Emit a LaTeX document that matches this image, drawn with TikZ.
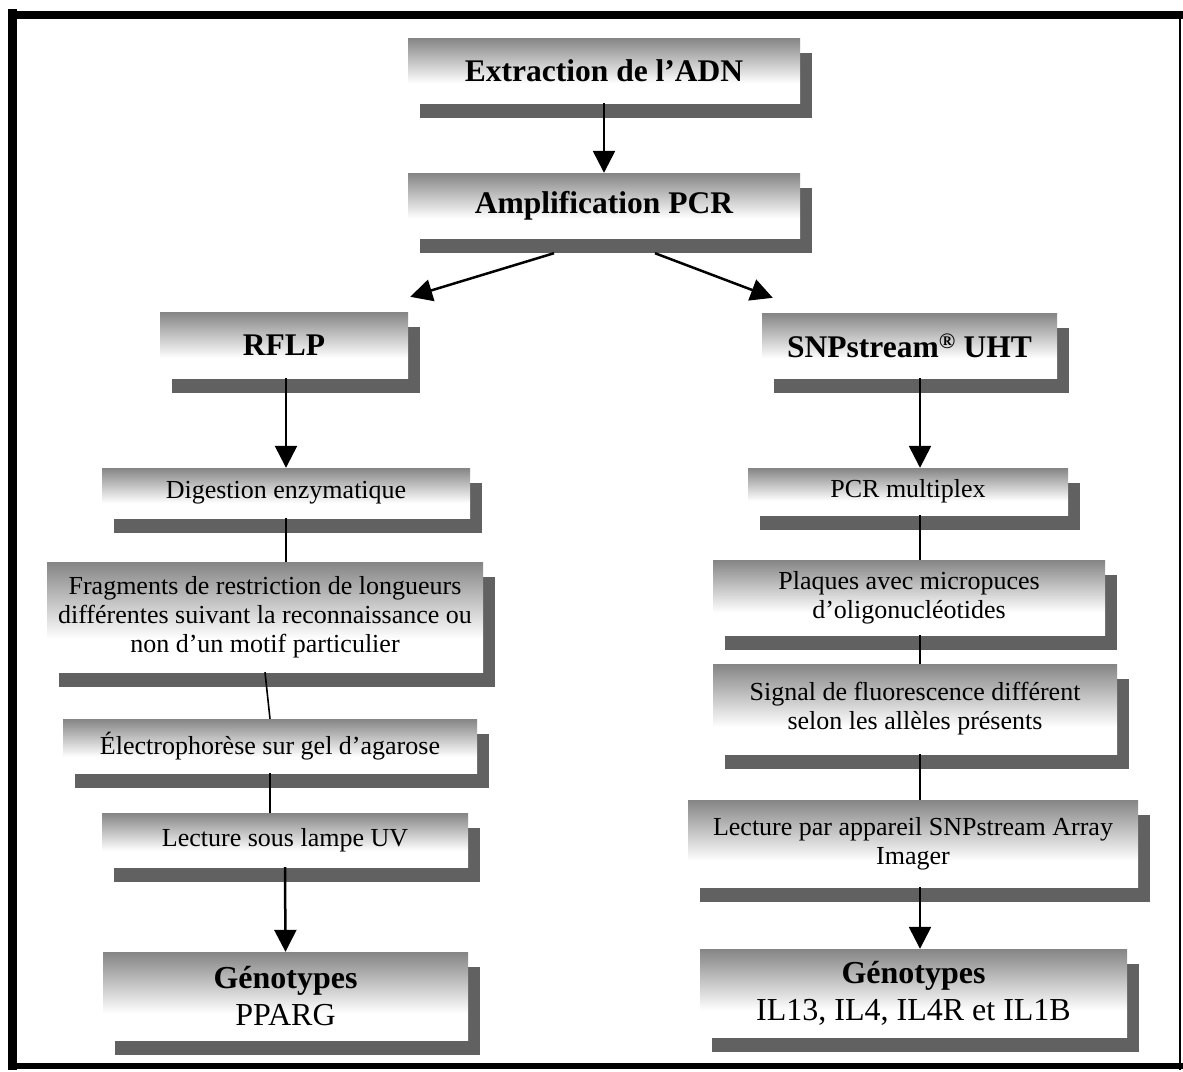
\documentclass[tikz,border=0pt]{standalone}
\usepackage{fontspec}
\setmainfont{Liberation Serif}
\usetikzlibrary{arrows.meta,shadows,calc}
\pgfdeclareverticalshading{boxfade}{100bp}{color(0bp)=(white); color(25bp)=(white); color(40bp)=(white); color(75bp)=(black!48); color(100bp)=(black!48)}
\begin{document}
\begin{tikzpicture}[x=1pt,y=-1pt,
  box/.style={shade, shading=boxfade,
    drop shadow={shadow xshift=12pt,shadow yshift=-15pt,fill=black!62,opacity=1},
    inner sep=0pt, align=center, font=\fontsize{26}{29}\selectfont},
  head/.style={box, font=\bfseries\fontsize{31.5}{35}\selectfont},
  gen/.style={box, font=\fontsize{32}{37}\selectfont},
  arr/.style={line width=2.5pt, -{Triangle[width=22pt,length=22pt]}},
  link/.style={line width=1.6pt}]
\useasboundingbox (0,0) rectangle (1183,1071);
\fill[white] (0,0) rectangle (1183,1071);
% frame
\draw[line width=9pt] (12.5,9) -- (12.5,1070);
\draw[line width=8pt] (8,15) -- (1183,15);
\draw[line width=2.5pt] (1180,11) -- (1180,1070);
\draw[line width=6pt] (9,1066) -- (1183,1066);
% nodes
\node[head, minimum width=392pt, minimum height=65pt] (ext) at (604,70.5) {Extraction de l’ADN};
\node[head, minimum width=392pt, minimum height=65pt] (amp) at (604,205.5) {Amplification PCR};
\node[head, minimum width=248pt, minimum height=66pt] (rflp) at (284,345) {RFLP};
\node[head, minimum width=295pt, minimum height=65pt] (snp) at (909.5,345.5) {SNPstream\textsuperscript{®} UHT};
\node[box, minimum width=368pt, minimum height=50pt] (dig) at (286,493) {Digestion enzymatique};
\node[box, minimum width=436pt, minimum height=110pt] (frag) at (265,617) {Fragments de restriction de longueurs\\différentes suivant la reconnaissance ou\\non d’un motif particulier};
\node[box, minimum width=414pt, minimum height=54pt] (elec) at (270,746) {Électrophorèse sur gel d’agarose};
\node[box, minimum width=366pt, minimum height=54pt] (lec1) at (285,840) {Lecture sous lampe UV};
\node[gen, minimum width=365pt, minimum height=88pt] (gen1) at (285.5,996) {\textbf{Génotypes}\\PPARG};
\node[box, minimum width=320pt, minimum height=47pt] (pcr) at (908,491.5) {PCR multiplex};
\node[box, minimum width=392pt, minimum height=75pt] (plq) at (909,597.5) {Plaques avec micropuces\\d’oligonucléotides};
\node[box, minimum width=404pt, minimum height=90pt] (sig) at (915,709) {Signal de fluorescence différent\\selon les allèles présents};
\node[box, minimum width=450pt, minimum height=87pt] (lec2) at (913,843.5) {Lecture par appareil SNPstream Array\\Imager};
\node[gen, minimum width=427pt, minimum height=88pt] (gen2) at (913.5,993) {\textbf{Génotypes}\\IL13, IL4, IL4R et IL1B};
% connectors
\coordinate (rx) at (920,0);
\draw[arr] (ext.south) -- (amp.north);
\draw[arr] ($(amp.south)+(-50,15)$) -- ($(rflp.north east)+(2,-15)$);
\draw[arr] ($(amp.south)+(51,15)$) -- ($(snp.north west)+(11,-15)$);
\draw[arr] (rflp.south -| dig.north) -- (dig.north);
\draw[link] (dig.south) -- (dig.south |- frag.north);
\draw[link] (frag.south) -- (elec.north);
\draw[link] (elec.south) -- (elec.south |- lec1.north);
\draw[arr] (lec1.south) -- (gen1.north);
\draw[arr] (snp.south -| rx) -- (pcr.north -| rx);
\draw[link] (pcr.south -| rx) -- (plq.north -| rx);
\draw[link] (plq.south -| rx) -- (sig.north -| rx);
\draw[link] (sig.south -| rx) -- (lec2.north -| rx);
\draw[arr] (lec2.south -| rx) -- (gen2.north -| rx);
\end{tikzpicture}
\end{document}
